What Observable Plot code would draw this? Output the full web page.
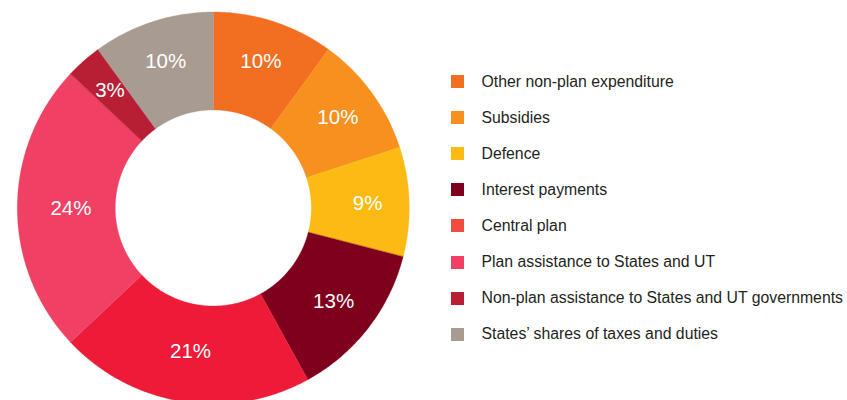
<!DOCTYPE html>
<html>
<head>
<meta charset="utf-8">
<script src="https://cdn.jsdelivr.net/npm/d3@7"></script>
<script src="https://cdn.jsdelivr.net/npm/@observablehq/plot@0.6"></script>
<style>
  html, body { margin: 0; padding: 0; background: #fff; overflow: hidden; }
  #wrap { position: relative; width: 847px; height: 400px; }
  #chart { position: absolute; left: 0; top: 0; }
  #legend { position: absolute; left: 451px; top: 63.5px; font-family: "Liberation Sans", Arial, Helvetica, sans-serif; font-size: 15.8px; color: #231f20; }
  .item { height: 36.1px; display: flex; align-items: center; white-space: nowrap; }
  .sw { width: 13px; height: 13px; margin-right: 17.5px; flex: none; }
</style>
</head>
<body>
<div id="wrap">
  <div id="chart"></div>
  <div id="legend"></div>
</div>
<script>
const categories = [
  "Other non-plan expenditure",
  "Subsidies",
  "Defence",
  "Interest payments",
  "Central plan",
  "Plan assistance to States and UT",
  "Non-plan assistance to States and UT governments",
  "States’ shares of taxes and duties"
];
const shares = [10, 10, 9, 13, 21, 24, 3, 10];
const labels = ["10%", "10%", "9%", "13%", "21%", "24%", "3%", "10%"];
const sliceColors = ["#F26F22", "#F7901E", "#FDBA12", "#7F001D", "#ED1B38", "#F04064", "#B81F34", "#A89B91"];
const legendColors = ["#F26F22", "#F7901E", "#FDBA12", "#7F001D", "#F04C3F", "#F04064", "#B81F34", "#A89B91"];

const R_OUT = 196, R_IN = 98;
const W = 430, H = 400, CX = 212.8, CY = 207.5;

const pie = d3.pie().sort(null).value(d => d.value);
const arcs = pie(categories.map((name, i) => ({name, value: shares[i], label: labels[i]})));

// polygon vertices for each slice, derived from the data angles
const pts = [];
for (const a of arcs) {
  const n = Math.max(2, Math.ceil((a.endAngle - a.startAngle) / 0.01));
  const ring = [];
  for (let k = 0; k <= n; k++) {
    const t = a.startAngle + (a.endAngle - a.startAngle) * k / n;
    ring.push({name: a.data.name, x: R_OUT * Math.sin(t), y: R_OUT * Math.cos(t)});
  }
  for (let k = n; k >= 0; k--) {
    const t = a.startAngle + (a.endAngle - a.startAngle) * k / n;
    ring.push({name: a.data.name, x: R_IN * Math.sin(t), y: R_IN * Math.cos(t)});
  }
  pts.push(...ring);
}
// labels near the area centroid of each annular sector
const rc = (2 / 3) * (R_OUT ** 3 - R_IN ** 3) / (R_OUT ** 2 - R_IN ** 2);
const labelPts = arcs.map(a => {
  const m = (a.startAngle + a.endAngle) / 2;
  const h = (a.endAngle - a.startAngle) / 2;
  const r = rc * Math.sin(h) / h + 4;
  return {label: a.data.label, x: r * Math.sin(m), y: r * Math.cos(m)};
});

const chart = Plot.plot({
  width: W,
  height: H,
  margin: 0,
  x: {domain: [-CX, W - CX], axis: null},
  y: {domain: [CY - H, CY], axis: null},
  color: {domain: categories, range: sliceColors},
  marks: [
    Plot.line(pts, {x: "x", y: "y", z: "name", fill: "name", stroke: "name", strokeWidth: 0.3, curve: "linear-closed"}),
    Plot.text(labelPts, {x: "x", y: "y", text: "label", fill: "white", fontSize: 20.5, fontFamily: "Liberation Sans, Arial, sans-serif"})
  ]
});
document.getElementById("chart").appendChild(chart);

const legend = document.getElementById("legend");
categories.forEach((c, i) => {
  const row = document.createElement("div");
  row.className = "item";
  const sw = document.createElement("span");
  sw.className = "sw";
  sw.style.background = legendColors[i];
  const tx = document.createElement("span");
  tx.textContent = c;
  row.appendChild(sw);
  row.appendChild(tx);
  legend.appendChild(row);
});
</script>
</body>
</html>
